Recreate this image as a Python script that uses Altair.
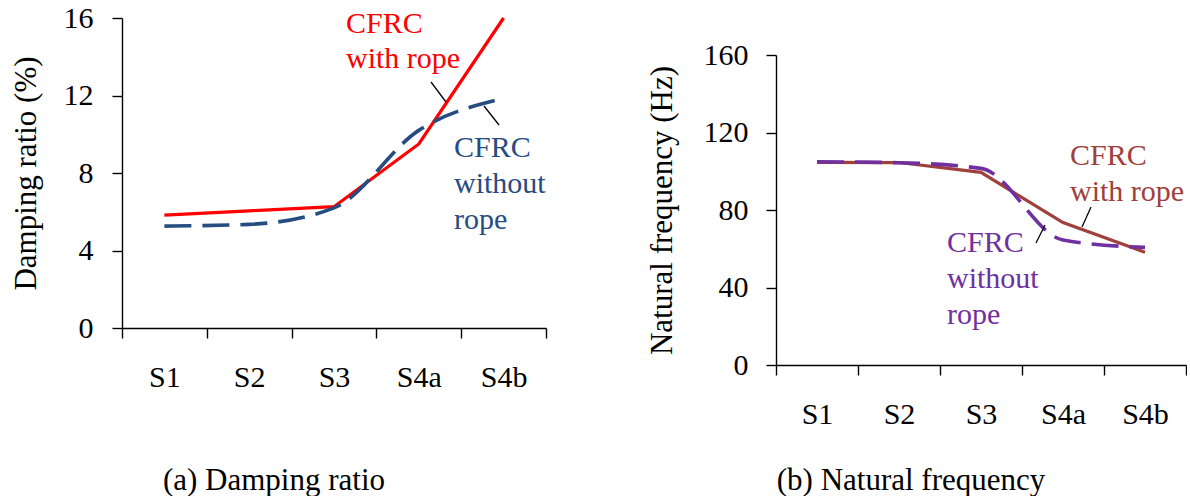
import altair as alt
import pandas as pd

# ---------------- data ----------------
stages = ["S1", "S2", "S3", "S4a", "S4b"]
damp_with_rope = [5.83, 6.05, 6.26, 9.5, 16.0]
damp_without_rope = [5.26, 5.35, 6.2, 10.2, 11.85]
freq_with_rope = [104.6, 104.5, 99.4, 73.5, 58.2]
freq_without_rope = [104.9, 104.4, 101.5, 64.5, 60.7]
damp_ticks = [0, 4, 8, 12, 16]
freq_ticks = [0, 40, 80, 120, 160]

FONT = "Liberation Serif"
RED = "#FF0000"
BLUE = "#264C82"
BROWN = "#A0403C"
PURPLE = "#7030A0"

one = pd.DataFrame({"k": [0]})


def xenc():
    return alt.X(
        "stage:N",
        sort=stages,
        bandPosition=0.5,
        scale=alt.Scale(type="band", domain=stages, paddingInner=0, paddingOuter=0),
        axis=alt.Axis(
            title=None, tickBand="extent", tickSize=10, labelPadding=24,
            labelFontSize=30, labelFont=FONT, labelColor="black",
            domainColor="black", tickColor="black", domainWidth=1.4, tickWidth=1.4,
            labelAngle=0, grid=False,
        ),
    )


def yenc(title, ticks, yrange, lab_pad, title_pad):
    return alt.Y(
        "value:Q",
        scale=alt.Scale(domain=[ticks[0], ticks[-1]], nice=False, zero=True, range=yrange),
        axis=alt.Axis(
            title=title, values=ticks, tickSize=10, labelPadding=lab_pad,
            labelFontSize=30, labelFont=FONT, labelColor="black",
            titleFont=FONT, titleFontSize=31, titleFontWeight="normal",
            titleColor="black", titlePadding=title_pad,
            domainColor="black", tickColor="black", domainWidth=1.4, tickWidth=1.4,
            grid=False,
        ),
    )


def series_line(values, color, dashed, yaxis, smooth):
    df = pd.DataFrame({"stage": stages, "value": values})
    kw = dict(color=color, strokeWidth=3.2 if not dashed else 3.6)
    if dashed:
        kw["strokeDash"] = [27, 11]
    if smooth:
        kw["interpolate"] = "monotone"
    return alt.Chart(df).mark_line(**kw).encode(x=xenc(), y=yaxis)


def label(text, x, y, color, size=30, align="left"):
    return alt.Chart(one).mark_text(
        text=text, font=FONT, fontSize=size, color=color, align=align, baseline="alphabetic"
    ).encode(x=alt.value(x), y=alt.value(y))


def leader(x1, y1, x2, y2):
    return alt.Chart(one).mark_rule(color="black", strokeWidth=1.3).encode(
        x=alt.value(x1), y=alt.value(y1), x2=alt.value(x2), y2=alt.value(y2)
    )


# ---------------- left panel ----------------
y_left = yenc("Damping ratio (%)", damp_ticks, [310, 0], 19, 21)
left = alt.layer(
    series_line(damp_with_rope, RED, False, y_left, False),
    series_line(damp_without_rope, BLUE, True, y_left, True),
    label("CFRC", 224, 15, RED),
    label("with rope", 224, 50, RED),
    label("CFRC", 332, 139, BLUE),
    label("without", 332, 175, BLUE),
    label("rope", 332, 211, BLUE),
    leader(309, 64, 324, 84),
    leader(362, 88, 377, 107),
    label("(a) Damping ratio", 152, 472, "black", size=31, align="center"),
).properties(width=424, height=310)

# ---------------- right panel ----------------
# plot area sits 37 px lower than the left one
y_right = yenc("Natural frequency (Hz)", freq_ticks, [347, 37], 18, 25)
right = alt.layer(
    series_line(freq_with_rope, BROWN, False, y_right, False),
    series_line(freq_without_rope, PURPLE, True, y_right, True),
    label("CFRC", 294, 147, BROWN),
    label("with rope", 294, 183, BROWN),
    label("CFRC", 171, 234, PURPLE),
    label("without", 171, 270, PURPLE),
    label("rope", 171, 306, PURPLE),
    leader(315, 189, 306, 209),
    leader(269, 207, 260, 225),
    label("(b) Natural frequency", 135, 472, "black", size=31, align="center"),
).properties(width=410, height=347)

chart = (
    alt.hconcat(left, right, spacing=99)
    .properties(padding={"left": 9, "top": 3, "right": 0, "bottom": 0}, background="white")
    .configure_view(stroke=None)
)

chart.save("out.html", embed_options={"renderer": "svg", "actions": False})
